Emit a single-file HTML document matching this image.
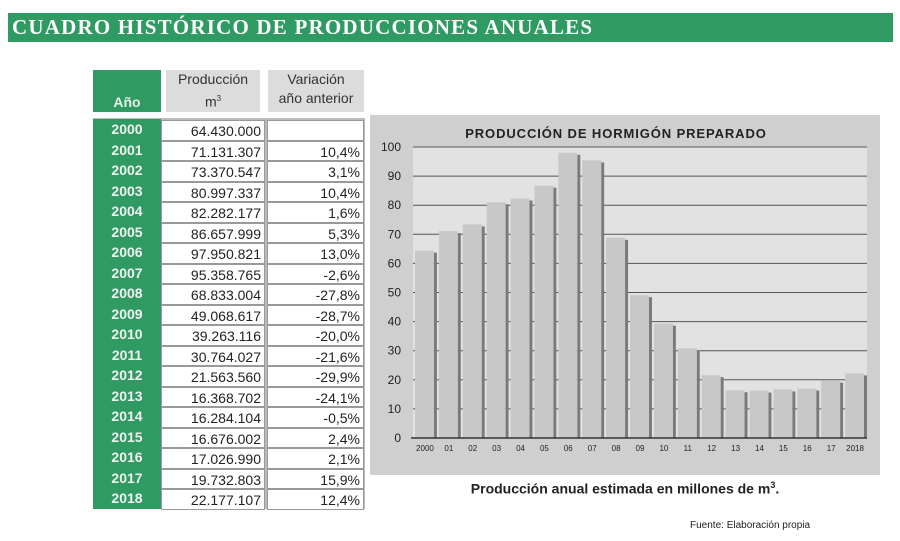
<!DOCTYPE html>
<html><head><meta charset="utf-8">
<style>
body{margin:0;width:900px;height:541px;background:#fff;position:relative;overflow:hidden;font-family:"Liberation Sans",sans-serif}
.abs{position:absolute}
#banner{left:8px;top:13px;width:885px;height:29px;background:#2f9a62;color:#fff;font-family:"Liberation Serif",serif;font-weight:bold;font-size:21px;letter-spacing:1.2px;line-height:29px;padding-left:4px;box-sizing:border-box}
.hdr{top:70px;height:42px;background:#dcdcdc;color:#333;font-size:14px;text-align:center;line-height:19px}
.row{position:absolute;height:20.4px;font-size:14px;color:#222;line-height:20px}
.yr{left:93px;width:68px;background:#2f9a62;font-weight:bold;text-align:center;color:#f0f0f0}
.cell{background:#fff;border:1.5px solid #999;box-sizing:border-box;text-align:right;padding-right:3px}
</style></head><body>
<div id="banner" class="abs">CUADRO HISTÓRICO DE PRODUCCIONES ANUALES</div>
<div class="abs" style="left:93px;top:70px;width:68px;height:42px;background:#2f9a62;color:#e8f0e8;font-weight:bold;font-size:14px;text-align:center;line-height:14px"><div style="margin-top:25px">Año</div></div>
<div class="abs hdr" style="left:166px;width:94px">Producción<br>m<sup style="font-size:8px">3</sup></div>
<div class="abs hdr" style="left:268px;width:96px">Variación<br>año anterior</div>
<div class="abs" style="left:93px;top:118px;width:272px;height:391px;background:#bbb" id="tbl"></div>
<div class="abs" style="left:370px;top:115px;width:510px;height:360px;background:#cfcfcf">
<svg id="chart" width="510" height="360"></svg></div>
<div class="abs" style="left:370px;top:480px;width:510px;text-align:center;font-weight:bold;font-size:14px;color:#222">Producción anual estimada en millones de m<sup style="font-size:9px">3</sup>.</div>
<div class="abs" style="left:690px;top:520px;font-size:10px;color:#222">Fuente: Elaboración propia</div>
<script>
const years=["2000","2001","2002","2003","2004","2005","2006","2007","2008","2009","2010","2011","2012","2013","2014","2015","2016","2017","2018"];
const production=["64.430.000","71.131.307","73.370.547","80.997.337","82.282.177","86.657.999","97.950.821","95.358.765","68.833.004","49.068.617","39.263.116","30.764.027","21.563.560","16.368.702","16.284.104","16.676.002","17.026.990","19.732.803","22.177.107"];
const variation=["","10,4%","3,1%","10,4%","1,6%","5,3%","13,0%","-2,6%","-27,8%","-28,7%","-20,0%","-21,6%","-29,9%","-24,1%","-0,5%","2,4%","2,1%","15,9%","12,4%"];
const xLabels=["2000","01","02","03","04","05","06","07","08","09","10","11","12","13","14","15","16","17","2018"];
const values=[64.4,71.1,73.4,81.0,82.3,86.7,98.0,95.4,68.8,49.1,39.3,30.8,21.6,16.4,16.3,16.7,17.0,19.7,22.2];
const yTicks=[0,10,20,30,40,50,60,70,80,90,100];

const tbl=document.getElementById('tbl');
const rh=20.5;
years.forEach((y,i)=>{
  const top=2+i*rh;
  const a=document.createElement('div');a.className='row yr';a.style.top=(top-1)+'px';a.style.left='0';a.style.height=(rh+0.5)+'px';a.textContent=y;
  
  
  tbl.appendChild(a);
  const b=document.createElement('div');b.className='row cell';b.style.top=top+'px';b.style.left='68px';b.style.width='104px';b.style.height=rh+'px';b.textContent=production[i];
  
  
  tbl.appendChild(b);
  const c=document.createElement('div');c.className='row cell';c.style.top=top+'px';c.style.left='174px';c.style.width='97px';c.style.height=rh+'px';c.textContent=variation[i];
  
  
  tbl.appendChild(c);
});

const svg=document.getElementById('chart');const NS='http://www.w3.org/2000/svg';
const L=43,R=497,T=32,B=323;
const y=v=>B-(v/100)*(B-T);
const slot=(R-L)/values.length;
const x=i=>L+i*slot;
function el(t,at,name){const e=document.createElementNS(NS,t);for(const k in at)e.setAttribute(k,at[k]);svg.appendChild(e);return e;}
el('rect',{x:L,y:T,width:R-L,height:B-T,fill:'#e2e2e2'},'plot-area');
const title=el('text',{x:246,y:23,'text-anchor':'middle','font-size':13,'letter-spacing':'0.9','font-weight':'bold',fill:'#222','font-family':'Liberation Sans'},'chart-title');title.textContent='PRODUCCIÓN DE HORMIGÓN PREPARADO';
yTicks.forEach(t=>{
  if(t>0)el('line',{x1:L,x2:R,y1:y(t),y2:y(t),stroke:'#555','stroke-width':1},'gridline');
  const tx=el('text',{x:L-12,y:y(t)+4,'text-anchor':'end','font-size':12,fill:'#222','font-family':'Liberation Sans'},'y-tick-label');tx.textContent=t;
});
values.forEach((v,i)=>{
  const bx=x(i)+2,bw=slot-5;
  el('rect',{x:bx+bw,y:y(v)+2,width:3,height:B-y(v)-2,fill:'#7a7a7a'},'bar-shadow');
  el('rect',{x:bx,y:y(v),width:bw,height:B-y(v),fill:'#c8c8c8'},'bar-'+xLabels[i]);
  const tx=el('text',{x:x(i)+slot/2,y:B+13,'text-anchor':'middle','font-size':8,fill:'#222','font-family':'Liberation Sans'},'x-tick-label');tx.textContent=xLabels[i];
});
el('line',{x1:L-2,x2:R,y1:B,y2:B,stroke:'#333','stroke-width':1.5},'x-axis');
</script>
</body></html>
